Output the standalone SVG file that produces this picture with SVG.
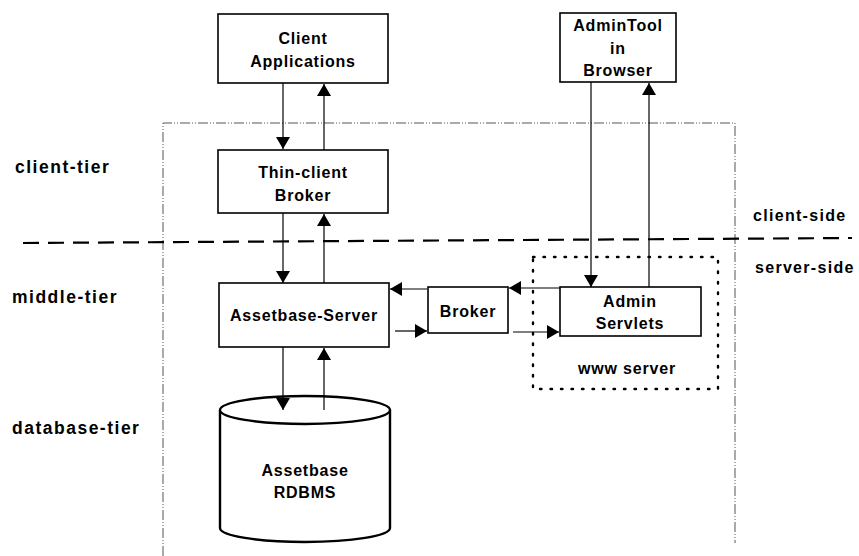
<svg xmlns="http://www.w3.org/2000/svg" width="859" height="556" viewBox="0 0 859 556">
<defs>
<style>
.box{fill:#fff;stroke:#000;stroke-width:1.6}
.t{font-family:"Liberation Sans",Arial,sans-serif;font-weight:bold;font-size:16px;letter-spacing:0.8px;text-anchor:middle;fill:#000}
.lbl{font-family:"Liberation Sans",Arial,sans-serif;font-weight:bold;font-size:17.5px;letter-spacing:1.5px;fill:#000}
.c{stroke:#000;stroke-width:1.2;fill:none;marker-end:url(#ah)}
</style>
<marker id="ah" markerUnits="userSpaceOnUse" markerWidth="12" markerHeight="14" viewBox="0 0 12 14" refX="12" refY="7" orient="auto">
<path d="M0,0 L12,7 L0,14 Z" fill="#000"/>
</marker>
</defs>
<rect width="859" height="556" fill="#fff"/>
<g id="boundaries">
<path d="M163,556 L163,123 L735,123 L735,543" fill="none" stroke="#555" stroke-width="1" stroke-dasharray="10,2,1,2,1,2"/>
<line x1="23" y1="243" x2="852" y2="238" stroke="#000" stroke-width="2.2" stroke-dasharray="16,9"/>
<rect id="www-server" x="533" y="257" width="185" height="132" fill="none" stroke="#000" stroke-width="2.4" stroke-dasharray="1.5,9" stroke-linecap="round"/>
</g>
<g id="labels">
<text class="lbl" x="15" y="173">client-tier</text>
<text class="lbl" x="12" y="303">middle-tier</text>
<text class="lbl" x="12" y="434">database-tier</text>
<text class="lbl" x="753" y="221" style="font-size:16px;letter-spacing:1.3px">client-side</text>
<text class="lbl" x="755" y="273" style="font-size:16px;letter-spacing:1.3px">server-side</text>
<text class="t" x="627" y="374">www server</text>
</g>
<g id="client-applications">
<rect class="box" x="218" y="14" width="170" height="69"/>
<text class="t" x="303" y="44">Client</text>
<text class="t" x="303" y="67">Applications</text>
</g>
<g id="thin-client-broker">
<rect class="box" x="218" y="150" width="170" height="63"/>
<text class="t" x="303" y="178">Thin-client</text>
<text class="t" x="303" y="201">Broker</text>
</g>
<g id="assetbase-server">
<rect class="box" x="219" y="283" width="170" height="64"/>
<text class="t" x="304" y="321">Assetbase-Server</text>
</g>
<g id="broker">
<rect class="box" x="428" y="287" width="80" height="46"/>
<text class="t" x="468" y="317">Broker</text>
</g>
<g id="admin-servlets">
<rect class="box" x="560" y="287" width="141" height="49"/>
<text class="t" x="630" y="307">Admin</text>
<text class="t" x="630" y="329">Servlets</text>
</g>
<g id="admintool">
<rect class="box" x="560" y="13" width="116" height="69"/>
<text class="t" x="618" y="31">AdminTool</text>
<text class="t" x="618" y="54">in</text>
<text class="t" x="618" y="76">Browser</text>
</g>
<g id="assetbase-rdbms">
<path d="M220,410 L220,528 A85,14 0 0 0 390,528 L390,410" fill="#fff" stroke="#000" stroke-width="2.4"/>
<ellipse cx="305" cy="410" rx="85" ry="14" fill="#fff" stroke="#000" stroke-width="2.4"/>
<text class="t" x="305" y="476">Assetbase</text>
<text class="t" x="305" y="498">RDBMS</text>
</g>
<g id="connectors">
<line class="c" x1="283" y1="83" x2="283" y2="149"/>
<line class="c" x1="324" y1="150" x2="324" y2="84"/>
<line class="c" x1="283" y1="213" x2="283" y2="283"/>
<line class="c" x1="324" y1="283" x2="324" y2="214"/>
<line class="c" x1="283" y1="347" x2="283" y2="410"/>
<line class="c" x1="324" y1="410" x2="324" y2="348"/>
<line class="c" x1="427" y1="289" x2="390" y2="289"/>
<line class="c" x1="395" y1="331" x2="427" y2="331"/>
<line class="c" x1="560" y1="288" x2="509" y2="288"/>
<line class="c" x1="513" y1="332" x2="559" y2="332"/>
<line class="c" x1="591" y1="82" x2="591" y2="287"/>
<line class="c" x1="649" y1="287" x2="649" y2="83"/>
</g>
</svg>
